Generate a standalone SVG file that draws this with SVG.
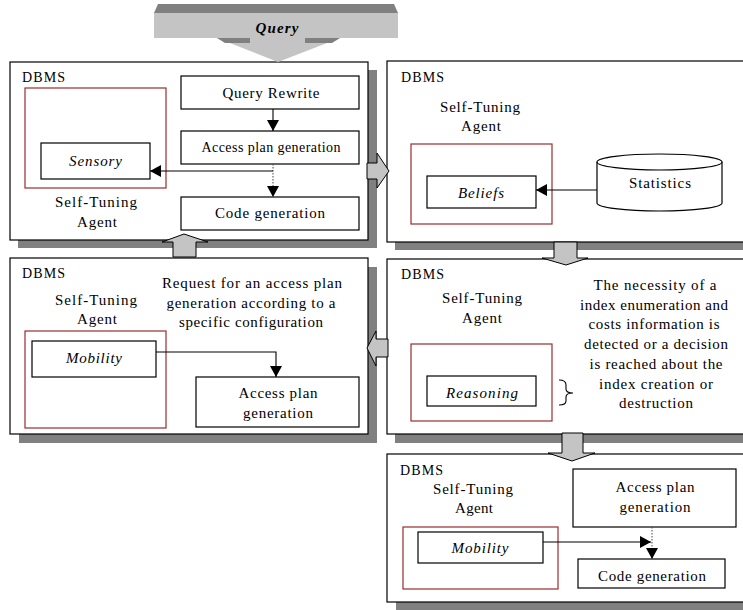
<svg xmlns="http://www.w3.org/2000/svg" width="743" height="610" viewBox="0 0 743 610">
  <style>
    .t { font-family: "Liberation Serif", "Times New Roman", serif; font-size: 15px; fill: #000; }
    .sm { font-size: 14px; }
    .it { font-style: italic; }
    .mid { text-anchor: middle; }
    .panel { fill: #fff; stroke: #000; stroke-width: 1.2; }
    .shadow { fill: #808080; }
    .agent { fill: none; stroke: #9b2c2c; stroke-width: 1.2; }
    .box { fill: #fff; stroke: #000; stroke-width: 1.2; }
    .fat { fill: #c4c4c4; stroke: #000; stroke-width: 1; }
    .wire { fill: none; stroke: #000; stroke-width: 1.1; }
    .dot { fill: none; stroke: #444; stroke-width: 1; stroke-dasharray: 1.5 1.5; }
  </style>
  <defs>
    <marker id="head" viewBox="0 0 10 10" markerWidth="11" markerHeight="12" refX="10" refY="5" orient="auto" markerUnits="userSpaceOnUse" preserveAspectRatio="none">
      <path d="M0,0 L10,5 L0,10 Z" fill="#000"/>
    </marker>
  </defs>

  <rect width="743" height="610" fill="#fff"/>

  <!-- DBMS panel: query pipeline with sensory agent -->
  <g id="dbms-sensory">
    <rect class="shadow" x="18" y="70" width="359" height="178"/>
    <rect class="panel" x="10" y="62" width="358" height="178"/>
    <text class="t sm" x="22" y="82" textLength="43">DBMS</text>
    <rect class="agent" x="25" y="88" width="141" height="100"/>
    <rect class="box" x="41" y="143" width="109" height="36"/>
    <text class="t it mid" x="95.5" y="166" textLength="53">Sensory</text>
    <text class="t mid" x="96" y="207" textLength="82">Self-Tuning</text>
    <text class="t mid" x="97" y="227" textLength="40">Agent</text>
    <rect class="box" x="181" y="76" width="178" height="33"/>
    <text class="t mid" x="271" y="98" textLength="97">Query Rewrite</text>
    <rect class="box" x="181" y="131" width="178" height="33"/>
    <text class="t sm mid" x="271" y="152" textLength="139">Access plan generation</text>
    <rect class="box" x="181" y="197" width="178" height="33"/>
    <text class="t mid" x="270" y="218" textLength="110">Code generation</text>
  </g>

  <!-- DBMS panel: beliefs fed by statistics -->
  <g id="dbms-beliefs">
    <rect class="shadow" x="395" y="69" width="360" height="181"/>
    <rect class="panel" x="387" y="61" width="360" height="181"/>
    <text class="t sm" x="401" y="82" textLength="43">DBMS</text>
    <text class="t mid" x="480" y="112" textLength="80">Self-Tuning</text>
    <text class="t mid" x="481" y="131" textLength="40">Agent</text>
    <rect class="agent" x="411" y="144" width="141" height="80"/>
    <rect class="box" x="427" y="176" width="109" height="32"/>
    <text class="t it mid" x="481" y="198" textLength="46">Beliefs</text>
    <g id="statistics">
      <path class="box" d="M597,162 A62.5,8 0 0 1 722,162 V203 A62.5,8 0 0 1 597,203 Z"/>
      <path class="wire" d="M597,162 A62.5,8 0 0 0 722,162"/>
      <text class="t mid" x="660" y="188" textLength="62">Statistics</text>
    </g>
  </g>

  <!-- DBMS panel: mobility requests an access plan -->
  <g id="dbms-mobility-request">
    <rect class="shadow" x="19" y="267" width="358" height="176"/>
    <rect class="panel" x="10" y="258" width="358" height="176"/>
    <text class="t sm" x="22" y="278" textLength="43">DBMS</text>
    <text class="t mid" x="96" y="305" textLength="82">Self-Tuning</text>
    <text class="t mid" x="97" y="324" textLength="40">Agent</text>
    <text class="t mid" x="252" y="288" textLength="180">Request for an access plan</text>
    <text class="t mid" x="251" y="308" textLength="169">generation according to a</text>
    <text class="t mid" x="251" y="327" textLength="144">specific configuration</text>
    <rect class="agent" x="25" y="331" width="141" height="97"/>
    <rect class="box" x="32" y="341" width="124" height="36"/>
    <text class="t it mid" x="94" y="363" textLength="56">Mobility</text>
    <rect class="box" x="196" y="377" width="163" height="50"/>
    <text class="t mid" x="278" y="398" textLength="79">Access plan</text>
    <text class="t mid" x="278" y="418" textLength="70">generation</text>
  </g>

  <!-- DBMS panel: reasoning -->
  <g id="dbms-reasoning">
    <rect class="shadow" x="395" y="268" width="360" height="175"/>
    <rect class="panel" x="387" y="259" width="360" height="175"/>
    <text class="t sm" x="401" y="279" textLength="43">DBMS</text>
    <text class="t mid" x="482" y="303" textLength="80">Self-Tuning</text>
    <text class="t mid" x="482" y="323" textLength="40">Agent</text>
    <rect class="agent" x="411" y="344" width="141" height="77"/>
    <rect class="box" x="427" y="376" width="109" height="30"/>
    <text class="t it mid" x="482" y="398" textLength="72">Reasoning</text>
    <path class="wire" d="M559,380 Q566,380 566,385 L566,389 Q566,393 573,393 Q566,393 566,397 L566,401 Q566,405 559,405"/>
    <text class="t mid" x="655" y="290" textLength="123">The necessity of a</text>
    <text class="t mid" x="654" y="309.7" textLength="148">index enumeration and</text>
    <text class="t mid" x="654" y="329.4" textLength="131">costs information is</text>
    <text class="t mid" x="656" y="349.1" textLength="144">detected or a decision</text>
    <text class="t mid" x="656" y="368.8" textLength="133">is reached about the</text>
    <text class="t mid" x="656" y="388.5" textLength="114">index creation or</text>
    <text class="t mid" x="656" y="408.2" textLength="74">destruction</text>
  </g>

  <!-- DBMS panel: mobility with code generation -->
  <g id="dbms-mobility-code">
    <rect class="shadow" x="396" y="462" width="360" height="148"/>
    <rect class="panel" x="387" y="454" width="360" height="148"/>
    <text class="t sm" x="400" y="475" textLength="43">DBMS</text>
    <text class="t mid" x="473" y="494" textLength="80">Self-Tuning</text>
    <text class="t mid" x="474" y="513" textLength="38">Agent</text>
    <rect class="agent" x="403" y="527" width="155" height="62"/>
    <rect class="box" x="418" y="532" width="125" height="31"/>
    <text class="t it mid" x="480" y="553" textLength="57">Mobility</text>
    <rect class="box" x="573" y="469" width="163" height="58"/>
    <text class="t mid" x="655" y="492" textLength="79">Access plan</text>
    <text class="t mid" x="655" y="512" textLength="71">generation</text>
    <rect class="box" x="578" y="559" width="147" height="29"/>
    <text class="t mid" x="652" y="581" textLength="108">Code generation</text>
  </g>

  <!-- incoming query block arrow -->
  <g id="query">
    <polygon points="217,38 340,38 278,62" fill="#c4c4c4"/>
    <polygon points="217,38 250,38 250,43 225,43" fill="#808080"/>
    <polygon points="305,38 340,38 332,43 305,43" fill="#808080"/>
    <polygon points="158,4 394,4 398,13 154,13" fill="#808080"/>
    <rect x="154" y="13" width="244" height="25" fill="#c4c4c4"/>
    <text class="t it mid" x="277" y="33" font-weight="bold" textLength="43">Query</text>
  </g>

  <g id="connectors">
    <!-- block arrows between panels -->
    <polygon class="fat" points="367,163 377,163 377,153 389,171 377,188 377,179 367,179"/>
    <polygon class="fat" points="554,242 577,242 577,258 588,258 566,265 542,258 554,258"/>
    <polygon class="fat" points="388,339 376,339 376,331 367,348 376,366 376,357 388,357"/>
    <polygon class="fat" points="173,257 173,242 162,242 184,234 208,242 196,242 196,257"/>
    <polygon class="fat" points="562,433 583,433 583,453 595,453 572,461 548,453 562,453"/>

    <!-- flows inside panels -->
    <line class="wire" x1="273" y1="109" x2="273" y2="131" marker-end="url(#head)"/>
    <line class="dot" x1="273" y1="164" x2="273" y2="197" marker-end="url(#head)"/>
    <line class="wire" x1="273" y1="171" x2="150" y2="171" marker-end="url(#head)"/>
    <line class="wire" x1="597" y1="190" x2="536" y2="190" marker-end="url(#head)"/>
    <path class="wire" d="M156,352 H276 V377" marker-end="url(#head)"/>
    <line class="wire" x1="543" y1="542" x2="651" y2="542" marker-end="url(#head)"/>
    <line class="dot" x1="652" y1="527" x2="652" y2="559" marker-end="url(#head)"/>
  </g>
</svg>
